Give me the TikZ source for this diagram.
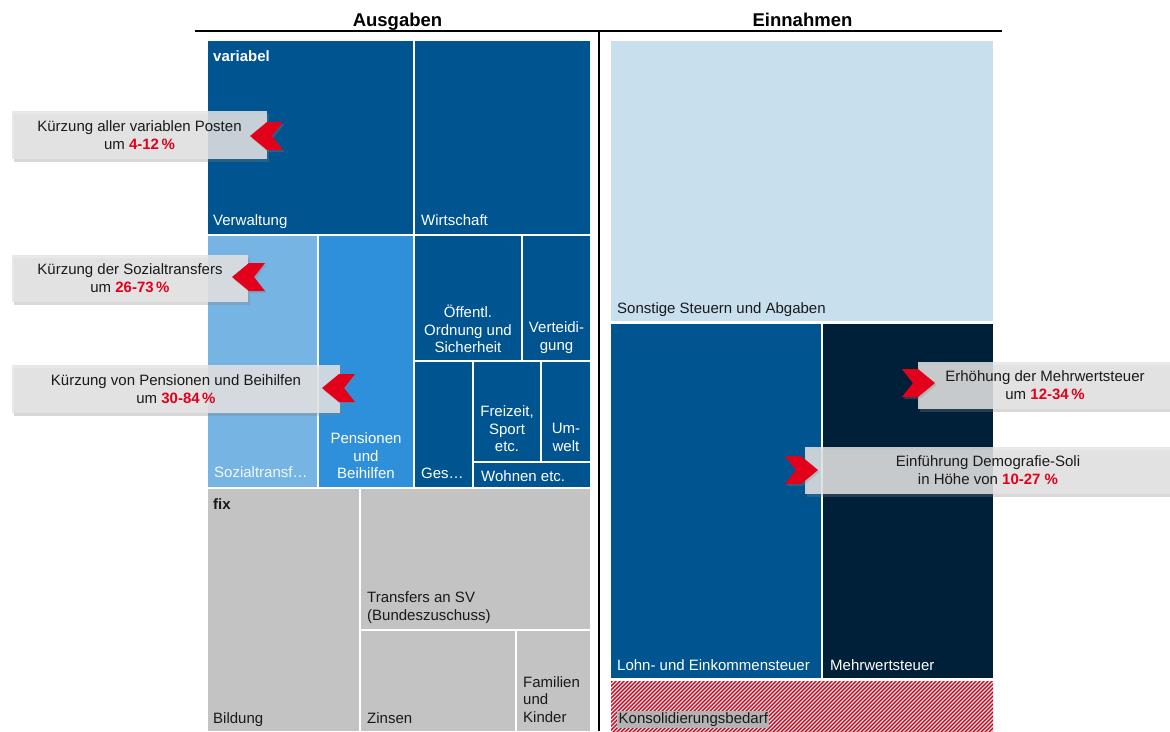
\documentclass[tikz,border=0pt]{standalone}
\usepackage{fontspec}
\setmainfont{Liberation Sans}
\usetikzlibrary{shadows}
\definecolor{dblue}{HTML}{00548F}
\definecolor{lblue}{HTML}{76B5E3}
\definecolor{mblue}{HTML}{2E90DA}
\definecolor{sblue}{HTML}{C8DFEE}
\definecolor{navy}{HTML}{00203A}
\definecolor{cgray}{HTML}{C3C3C3}
\definecolor{hred}{HTML}{E2001A}
\definecolor{txt}{HTML}{1A1A1A}
\definecolor{boxgray}{HTML}{E4E4E4}
\newcommand\tmcell[6]{\node[cell,fill=#6,minimum width={(#4-#2)*1pt},minimum height={(#5-#3)*1pt}] (#1) at (#2,#3) {};}
\newcommand\chevL[2]{\fill[chev] (#1,#2) -- (#1+17,#2-14) -- (#1+33,#2-14) -- (#1+22,#2) -- (#1+33,#2+14) -- (#1+17,#2+14) -- cycle;}
\newcommand\chevR[2]{\fill[chev] (#1+11,#2) -- (#1,#2-14) -- (#1+16,#2-14) -- (#1+33,#2) -- (#1+16,#2+14) -- (#1,#2+14) -- cycle;}
\newcommand\pctr[1]{{\color{hred}\bfseries #1}}
\begin{document}
\begin{tikzpicture}[x=1pt,y=-1pt,
  cell/.style={anchor=north west,inner sep=0pt,outer sep=0pt,draw=none},
  lbl/.style={font=\fontsize{15}{17.5}\selectfont,inner sep=0pt,text=white},
  dlbl/.style={lbl,text=txt},
  hdr/.style={font=\bfseries\fontsize{18.5}{20}\selectfont,inner sep=0pt,anchor=base,text=black},
  cbox/.style={fill=boxgray,fill opacity=0.85,text opacity=1,draw=none,inner sep=0pt,
    align=center,font=\fontsize{15}{18}\selectfont,text=txt,
    drop shadow={shadow xshift=2pt,shadow yshift=-3pt,opacity=0.3}},
  chev/.style={hred,drop shadow={shadow xshift=1.5pt,shadow yshift=-2pt,opacity=0.3}}]
\useasboundingbox (0,0) rectangle (1170,731);
\fill[white] (0,0) rectangle (1170,731);
% headers
\node[hdr] (hA) at (397.5,26) {Ausgaben};
\node[hdr] (hE) at (802.5,26) {Einnahmen};
\coordinate (hl) at (195,31);
\coordinate (hr) at (1002,31);
\coordinate (vt) at (599,31);
\coordinate (vb) at (599,731);
\draw[line width=1.5pt] (hl) -- (hr);
\draw[line width=1.5pt] (vt) -- (vb);
% Ausgaben cells
\tmcell{verw}{208}{41}{413}{234}{dblue}
\tmcell{wirt}{415}{41}{590}{234}{dblue}
\tmcell{sozi}{208}{236}{317}{487}{lblue}
\tmcell{pens}{319}{236}{413}{487}{mblue}
\tmcell{oeff}{415}{236}{521}{360}{dblue}
\tmcell{vert}{523}{236}{590}{360}{dblue}
\tmcell{ges}{415}{362}{472}{487}{dblue}
\tmcell{frei}{474}{362}{540}{461}{dblue}
\tmcell{umw}{542}{362}{590}{461}{dblue}
\tmcell{wohn}{474}{463}{590}{487}{dblue}
\tmcell{bild}{208}{489}{359}{731}{cgray}
\tmcell{trans}{361}{489}{590}{629}{cgray}
\tmcell{zins}{361}{631}{515}{731}{cgray}
\tmcell{fam}{517}{631}{590}{731}{cgray}
% Einnahmen cells
\tmcell{sonst}{611}{41}{993}{321}{sblue}
\tmcell{lohn}{611}{324}{821}{678}{dblue}
\tmcell{mwst}{823}{324}{993}{678}{navy}
\tmcell{kons}{611}{681}{993}{731}{white!92!gray}
\begin{scope}
  \clip (611,681) rectangle (993,731);
  \foreach \i in {556,560,...,1000} \draw[hred,line width=1.4pt] (\i,733) -- (\i+54,679);
\end{scope}
% labels
\node[lbl,anchor=base west,font=\bfseries\fontsize{15}{17.5}\selectfont] (lvar) at (213,61) {variabel};
\node[lbl,anchor=base west] (lverw) at (213,225) {Verwaltung};
\node[lbl,anchor=base west] (lwirt) at (421,225) {Wirtschaft};
\node[lbl,anchor=base west,text=white!90!lblue] (lsozi) at (214,477) {Sozialtransf…};
\node[lbl,align=center] (lpens) at (366,456) {Pensionen\\und\\Beihilfen};
\node[lbl,align=center] (loeff) at (468,329) {Öffentl.\\Ordnung und\\Sicherheit};
\node[lbl,align=center] (lvert) at (556.5,337.5) {Verteidi-\\gung};
\node[lbl,anchor=base west] (lges) at (421,478) {Ges…};
\node[lbl,align=center] (lfrei) at (507,429) {Freizeit,\\Sport\\etc.};
\node[lbl,align=center] (lumw) at (566,437.5) {Um-\\welt};
\node[lbl,anchor=base west] (lwohn) at (481,481) {Wohnen etc.};
\node[dlbl,anchor=base west,font=\bfseries\fontsize{15}{17.5}\selectfont] (lfix) at (213,509) {fix};
\node[dlbl,anchor=base west] (lbild) at (213,723) {Bildung};
\node[dlbl,anchor=west,align=left] (ltrans) at (367,607.5) {Transfers an SV\\(Bundeszuschuss)};
\node[dlbl,anchor=base west] (lzins) at (367,723) {Zinsen};
\node[dlbl,anchor=west,align=left] (lfam) at (523,699.5) {Familien\\und\\Kinder};
\node[dlbl,anchor=base west] (lsonst) at (617,313) {Sonstige Steuern und Abgaben};
\node[lbl,anchor=base west] (llohn) at (617,670) {Lohn- und Einkommensteuer};
\node[lbl,anchor=base west] (lmwst) at (830,670) {Mehrwertsteuer};
\node[dlbl,anchor=base west,fill=cgray!92!black,inner sep=1.5pt] (lkons) at (617,723) {Konsolidierungsbedarf};
% callouts
\node[cbox,minimum width=255pt,minimum height=48pt] (c1) at (139.5,135) {Kürzung aller variablen Posten\\um \pctr{4-12\,\%}};
\chevL{250}{136}
\node[cbox,minimum width=236pt,minimum height=47pt] (c2) at (130,278.5) {Kürzung der Sozialtransfers\\um \pctr{26-73\,\%}};
\chevL{232}{277}
\node[cbox,minimum width=328pt,minimum height=48pt] (c3) at (176,389) {Kürzung von Pensionen und Beihilfen\\um \pctr{30-84\,\%}};
\chevL{322}{388}
\node[cbox,minimum width=254pt,minimum height=47pt] (c4) at (1045,385.5) {Erhöhung der Mehrwertsteuer\\um \pctr{12-34\,\%}};
\chevR{902}{383}
\node[cbox,minimum width=366pt,minimum height=47pt] (c5) at (988,470.5) {Einführung Demografie-Soli\\in Höhe von \pctr{10-27 \%}};
\chevR{785}{470}
\end{tikzpicture}
\end{document}
